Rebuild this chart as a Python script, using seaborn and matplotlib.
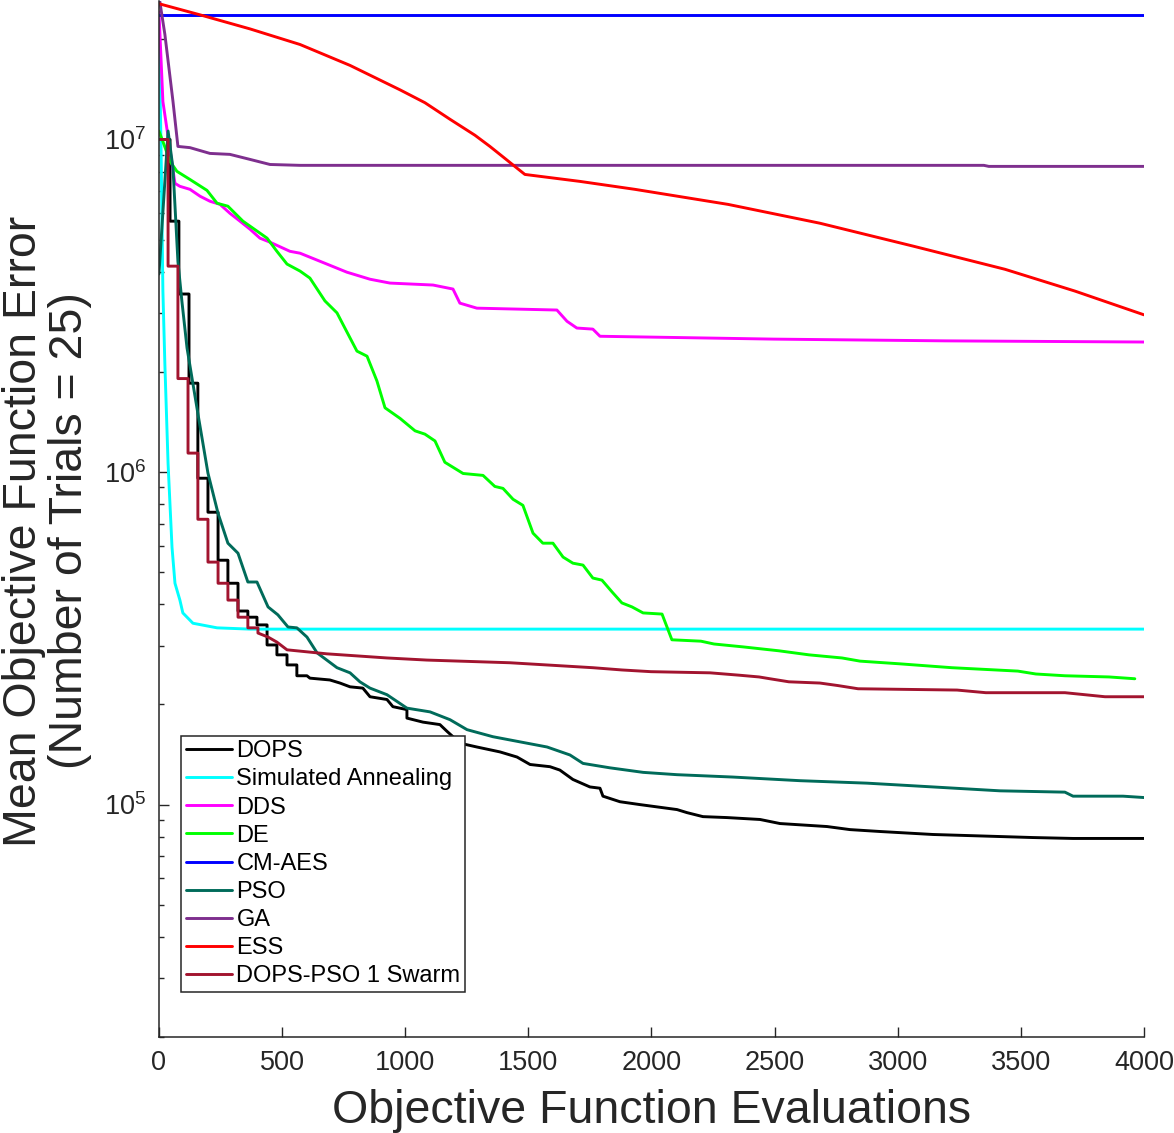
import matplotlib
matplotlib.use('Agg')
import numpy as np
import seaborn as sns
import matplotlib.pyplot as plt

# values (x = evaluations, y = mean error)
dops_x = [0, 45, 45, 81, 81, 122, 122, 158, 158, 199, 199, 240, 240, 280, 280, 321, 321, 361, 361, 398,
          398, 439, 439, 479, 479, 520, 520, 560, 560, 601, 613, 694, 735, 776, 828, 857, 926, 950, 1007, 1007,
          1072, 1141, 1170, 1194, 1222, 1291, 1385, 1454, 1507, 1588, 1628, 1681, 1750, 1791, 1803, 1872, 1953,
          2104, 2144, 2209, 2307, 2441, 2522, 2713, 2806, 2928, 3143, 3549, 3712, 4000]
dops_y = [1.0e7, 1.0e7, 5.68e6, 5.68e6, 3.43e6, 3.43e6, 1.85e6, 1.85e6, 9.58e5, 9.58e5,
          7.57e5, 7.57e5, 5.43e5, 5.43e5, 4.63e5, 4.63e5, 3.82e5, 3.82e5, 3.66e5, 3.66e5,
          3.47e5, 3.47e5, 3.02e5, 3.02e5, 2.82e5, 2.82e5, 2.63e5, 2.63e5, 2.44e5, 2.44e5,
          2.40e5, 2.37e5, 2.32e5, 2.26e5, 2.24e5, 2.11e5, 2.07e5, 1.97e5, 1.93e5, 1.82e5,
          1.77e5, 1.74e5, 1.66e5, 1.60e5, 1.53e5, 1.49e5, 1.44e5, 1.39e5, 1.32e5, 1.30e5,
          1.27e5, 1.19e5, 1.13e5, 1.12e5, 1.06e5, 1.02e5, 1.0e5, 9.66e4, 9.46e4, 9.2e4,
          9.14e4, 9.02e4, 8.77e4, 8.59e4, 8.41e4, 8.30e4, 8.13e4, 7.96e4, 7.91e4, 7.91e4]

sa_x = [0, 8, 16, 24, 37, 53, 65, 85, 97, 138, 236, 370, 4000]
sa_y = [2.1e7, 1.0e7, 3.5e6, 2.11e6, 1.06e6, 5.94e5, 4.63e5, 4.12e5, 3.77e5, 3.51e5, 3.40e5, 3.37e5, 3.37e5]

dds_x = [0, 16, 65, 85, 126, 167, 207, 248, 288, 329, 370, 410, 451, 532, 573, 682, 763, 857, 938, 1113,
         1194, 1222, 1291, 1616, 1657, 1697, 1762, 1791, 2497, 3192, 4000]
dds_y = [2.42e7, 1.30e7, 7.38e6, 7.23e6, 7.08e6, 6.75e6, 6.52e6, 6.38e6, 6.00e6, 5.68e6,
         5.37e6, 5.05e6, 4.91e6, 4.61e6, 4.55e6, 4.22e6, 3.99e6, 3.80e6, 3.70e6, 3.65e6,
         3.55e6, 3.22e6, 3.11e6, 3.07e6, 2.84e6, 2.71e6, 2.69e6, 2.56e6, 2.51e6, 2.48e6, 2.46e6]

de_x = [0, 16, 45, 73, 126, 195, 236, 280, 341, 439, 479, 520, 573, 613, 674, 723, 755, 804, 845, 885,
        918, 979, 1040, 1080, 1121, 1161, 1235, 1316, 1364, 1397, 1438, 1478, 1519, 1559, 1600, 1641, 1681,
        1722, 1762, 1799, 1840, 1880, 1921, 1966, 2043, 2083, 2201, 2254, 2372, 2518, 2640, 2774, 2847,
        3009, 3220, 3488, 3561, 3679, 3858, 3963]
de_y = [1.06e7, 9.86e6, 8.59e6, 8.02e6, 7.58e6, 7.03e6, 6.43e6, 6.30e6, 5.68e6, 5.05e6,
        4.61e6, 4.22e6, 4.02e6, 3.83e6, 3.27e6, 3.01e6, 2.71e6, 2.31e6, 2.23e6, 1.88e6,
        1.56e6, 1.45e6, 1.33e6, 1.30e6, 1.24e6, 1.07e6, 9.9e5, 9.77e5, 9.05e5, 8.93e5,
        8.28e5, 7.94e5, 6.55e5, 6.11e5, 6.11e5, 5.55e5, 5.32e5, 5.25e5, 4.80e5, 4.73e5,
        4.36e5, 4.04e5, 3.93e5, 3.77e5, 3.74e5, 3.13e5, 3.10e5, 3.04e5, 2.98e5, 2.90e5,
        2.82e5, 2.76e5, 2.70e5, 2.65e5, 2.58e5, 2.52e5, 2.47e5, 2.44e5, 2.42e5, 2.39e5]

cmaes_x = [0, 4000]
cmaes_y = [2.37e7, 2.37e7]

pso_x = [0, 37, 57, 77, 93, 114, 158, 199, 240, 280, 321, 361, 398, 443, 483, 524, 560, 601, 642, 723,
         776, 816, 857, 926, 1007, 1101, 1182, 1251, 1356, 1454, 1576, 1669, 1722, 1831, 1966, 2104, 2331,
         2603, 2875, 3143, 3415, 3679, 3712, 3915, 4000]
pso_y = [3.94e6, 1.06e7, 8.19e6, 4.30e6, 3.27e6, 2.36e6, 1.50e6, 9.92e5, 7.51e5, 6.11e5,
         5.70e5, 4.67e5, 4.67e5, 3.93e5, 3.72e5, 3.42e5, 3.40e5, 3.19e5, 2.86e5, 2.58e5,
         2.49e5, 2.34e5, 2.24e5, 2.14e5, 1.95e5, 1.90e5, 1.80e5, 1.68e5, 1.60e5, 1.55e5,
         1.49e5, 1.41e5, 1.33e5, 1.29e5, 1.25e5, 1.23e5, 1.21e5, 1.18e5, 1.16e5, 1.13e5,
         1.10e5, 1.09e5, 1.06e5, 1.06e5, 1.05e5]

ga_x = [0, 24, 57, 77, 126, 207, 288, 370, 451, 573, 3350, 3370, 4000]
ga_y = [2.7e7, 2.07e7, 1.30e7, 9.53e6, 9.45e6, 9.08e6, 9.02e6, 8.71e6, 8.41e6, 8.36e6, 8.36e6, 8.30e6, 8.30e6]

ess_x = [0, 167, 370, 573, 776, 979, 1080, 1182, 1283, 1344, 1405, 1445, 1486,
         1710, 1933, 2311, 2684, 3062, 3436, 3720, 4000]
ess_y = [2.56e7, 2.37e7, 2.15e7, 1.93e7, 1.67e7, 1.41e7, 1.29e7, 1.15e7, 1.03e7, 9.53e6, 8.77e6,
         8.3e6, 7.85e6, 7.48e6, 7.08e6, 6.38e6, 5.60e6, 4.78e6, 4.07e6, 3.50e6, 2.97e6]

dp_x = [0, 37, 37, 77, 77, 118, 118, 158, 158, 199, 199, 240, 240, 280, 280, 321, 321, 361, 361, 402,
        402, 443, 479, 520, 682, 926, 1088, 1425, 1762, 1880, 1998, 2238, 2355, 2437, 2481, 2558, 2684,
        2757, 2839, 3241, 3358, 3679, 3760, 3842, 4000]
dp_y = [1.0e7, 1.0e7, 4.16e6, 4.16e6, 1.91e6, 1.91e6, 1.14e6, 1.14e6, 7.21e5, 7.21e5,
        5.36e5, 5.36e5, 4.63e5, 4.63e5, 4.12e5, 4.12e5, 3.66e5, 3.66e5, 3.40e5, 3.40e5,
        3.28e5, 3.19e5, 3.08e5, 2.92e5, 2.84e5, 2.76e5, 2.72e5, 2.67e5, 2.58e5, 2.54e5,
        2.51e5, 2.49e5, 2.45e5, 2.42e5, 2.39e5, 2.34e5, 2.32e5, 2.28e5, 2.23e5, 2.21e5,
        2.17e5, 2.17e5, 2.14e5, 2.11e5, 2.11e5]

series = [
    ('DOPS', dops_x, dops_y, '#000000'),
    ('Simulated Annealing', sa_x, sa_y, '#00ffff'),
    ('DDS', dds_x, dds_y, '#ff00ff'),
    ('DE', de_x, de_y, '#00ff00'),
    ('CM-AES', cmaes_x, cmaes_y, '#0000ff'),
    ('PSO', pso_x, pso_y, '#006b5a'),
    ('GA', ga_x, ga_y, '#7e2f8e'),
    ('ESS', ess_x, ess_y, '#ff0000'),
    ('DOPS-PSO 1 Swarm', dp_x, dp_y, '#a2142f'),
]

sns.set_style('ticks')
plt.rcParams['font.family'] = ['Liberation Sans', 'DejaVu Sans']
plt.rcParams['mathtext.default'] = 'regular'
dark = '#262626'

fig = plt.figure(figsize=(11.74, 11.33), dpi=100)
ax = fig.add_axes([0.1354, 0.0847, 0.839, 0.914])

for name, xs, ys, col in series:
    sns.lineplot(x=xs, y=ys, ax=ax, color=col, label=name, linewidth=2.1,
                 sort=False, estimator=None)

ax.set_yscale('log')
ax.set_xlim(0, 4000)
ax.set_ylim(2.0e4, 2.6e7)
ax.set_xticks(np.arange(0, 4001, 500))
ax.minorticks_on()
ax.xaxis.set_minor_locator(matplotlib.ticker.NullLocator())

sns.despine(ax=ax)
for s in ['left', 'bottom']:
    ax.spines[s].set_linewidth(1.1)
    ax.spines[s].set_color(dark)
ax.tick_params(which='major', direction='in', length=7.5, width=1.0, color=dark,
               labelsize=19.5, labelcolor=dark, pad=9)
ax.tick_params(which='minor', direction='in', length=3.8, width=1.0, color=dark)

leg = ax.legend(loc='lower left', bbox_to_anchor=(0.0223, 0.0434), borderaxespad=0,
                fontsize=17, frameon=True, fancybox=False, framealpha=1,
                edgecolor=dark, handlelength=1.95, handletextpad=0.2,
                labelspacing=0.26, borderpad=0.2)
leg.get_frame().set_linewidth(1.1)
for t in leg.get_texts():
    t.set_color('#000000')

fig.text(47 / 1174, 1 - 531 / 1133,
         'Mean Objective Function Error\n(Number of Trials = 25)',
         rotation=90, ha='center', va='center', multialignment='center',
         fontsize=33.5, color=dark, linespacing=1.07)
fig.text(651 / 1174, 10 / 1133, 'Objective Function Evaluations',
         ha='center', va='baseline', fontsize=33.5, color=dark)

fig.savefig('out.png', dpi=100)
